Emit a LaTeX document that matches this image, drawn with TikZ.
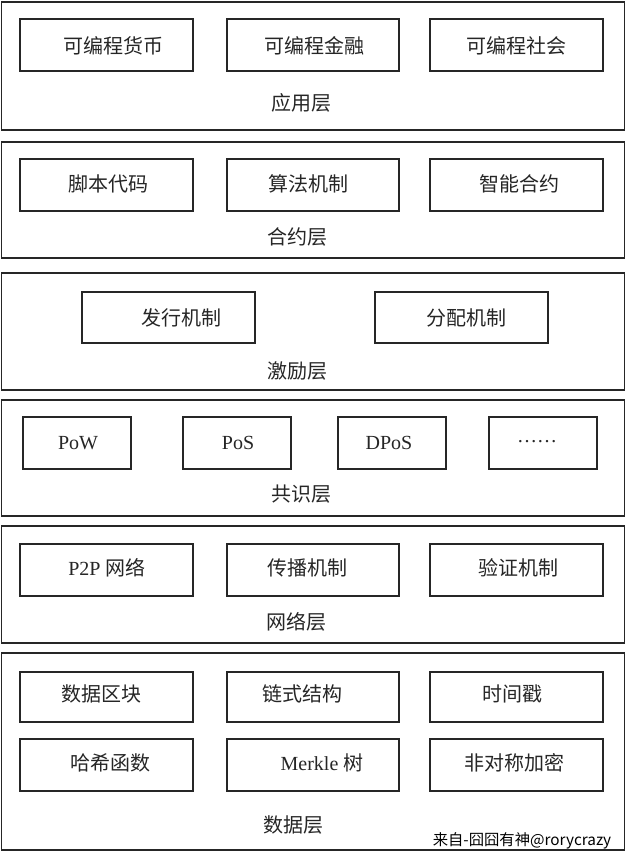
\documentclass[tikz,border=0pt]{standalone}
\usepackage{fontspec}
\setmainfont{Liberation Serif}
\newfontfamily\cjk{Noto Sans CJK SC}
\newcommand{\zh}[1]{{\cjk #1}}
\begin{document}
\begin{tikzpicture}[x=0.75pt,y=-0.75pt,
  layerbox/.style={draw=black!85, line width=1.4pt},
  itembox/.style={draw=black!85, line width=1.1pt},
  txt/.style={font=\fontsize{15}{18}\selectfont, text=black!85, inner sep=0pt, anchor=center},
  wmark/.style={font=\cjk\fontsize{11.5}{13}\selectfont, text=black, inner sep=0pt}]
\useasboundingbox[fill=white] (0,0) rectangle (626,852);

% layer frames
\draw[layerbox] (1.5,2) rectangle (624.5,130);
\draw[layerbox] (1.5,142) rectangle (624.5,258);
\draw[layerbox] (1.5,273) rectangle (624.5,390);
\draw[layerbox] (1.5,400) rectangle (624.5,516);
\draw[layerbox] (1.5,526) rectangle (624.5,643);
\draw[layerbox] (1.5,653) rectangle (624.5,850);

% application layer
\draw[itembox] (20,19) rectangle (193,71);
\draw[itembox] (227,19) rectangle (399,71);
\draw[itembox] (430,19) rectangle (603,71);
\node[txt] (a1) at (113,46) {\zh{可编程货币}};
\node[txt] (a2) at (314,46) {\zh{可编程金融}};
\node[txt] (a3) at (516,46) {\zh{可编程社会}};
\node[txt] (la) at (301,103) {\zh{应用层}};

% contract layer
\draw[itembox] (20,159) rectangle (193,211);
\draw[itembox] (227,159) rectangle (399,211);
\draw[itembox] (430,159) rectangle (603,211);
\node[txt] (c1) at (108,184) {\zh{脚本代码}};
\node[txt] (c2) at (308,184) {\zh{算法机制}};
\node[txt] (c3) at (519,184) {\zh{智能合约}};
\node[txt] (lc) at (297,237) {\zh{合约层}};

% incentive layer
\draw[itembox] (82,292) rectangle (255,343);
\draw[itembox] (375,292) rectangle (548,343);
\node[txt] (i1) at (181,318) {\zh{发行机制}};
\node[txt] (i2) at (466,318) {\zh{分配机制}};
\node[txt] (li) at (297,371) {\zh{激励层}};

% consensus layer
\draw[itembox] (23,417) rectangle (131,469);
\draw[itembox] (183,417) rectangle (291,469);
\draw[itembox] (338,417) rectangle (446,469);
\draw[itembox] (489,417) rectangle (597,469);
\node[txt] (s1) at (78,443) {PoW};
\node[txt] (s2) at (238,443) {PoS};
\node[txt] (s3) at (389,443) {DPoS};
\node[txt] (s4) at (537,442) {……};
\node[txt] (ls) at (301,494) {\zh{共识层}};

% network layer
\draw[itembox] (20,544) rectangle (193,596);
\draw[itembox] (227,544) rectangle (399,596);
\draw[itembox] (430,544) rectangle (603,596);
\node[txt] (n1) at (107,568) {P2P \zh{网络}};
\node[txt] (n2) at (307,568) {\zh{传播机制}};
\node[txt] (n3) at (518,568) {\zh{验证机制}};
\node[txt] (ln) at (296,622) {\zh{网络层}};

% data layer
\draw[itembox] (20,672) rectangle (193,722);
\draw[itembox] (227,672) rectangle (399,722);
\draw[itembox] (430,672) rectangle (603,722);
\draw[itembox] (20,739) rectangle (193,791);
\draw[itembox] (227,739) rectangle (399,791);
\draw[itembox] (430,739) rectangle (603,791);
\node[txt] (d1) at (101,694) {\zh{数据区块}};
\node[txt] (d2) at (302,694) {\zh{链式结构}};
\node[txt] (d3) at (512,694) {\zh{时间戳}};
\node[txt] (d4) at (110,763) {\zh{哈希函数}};
\node[txt] (d5) at (322,763) {Merkle \zh{树}};
\node[txt] (d6) at (514,763) {\zh{非对称加密}};
\node[txt] (ld) at (293,825) {\zh{数据层}};

% watermark
\node[wmark] (wm) at (522,841) {来自-囧囧有神@rorycrazy};
\end{tikzpicture}
\end{document}
